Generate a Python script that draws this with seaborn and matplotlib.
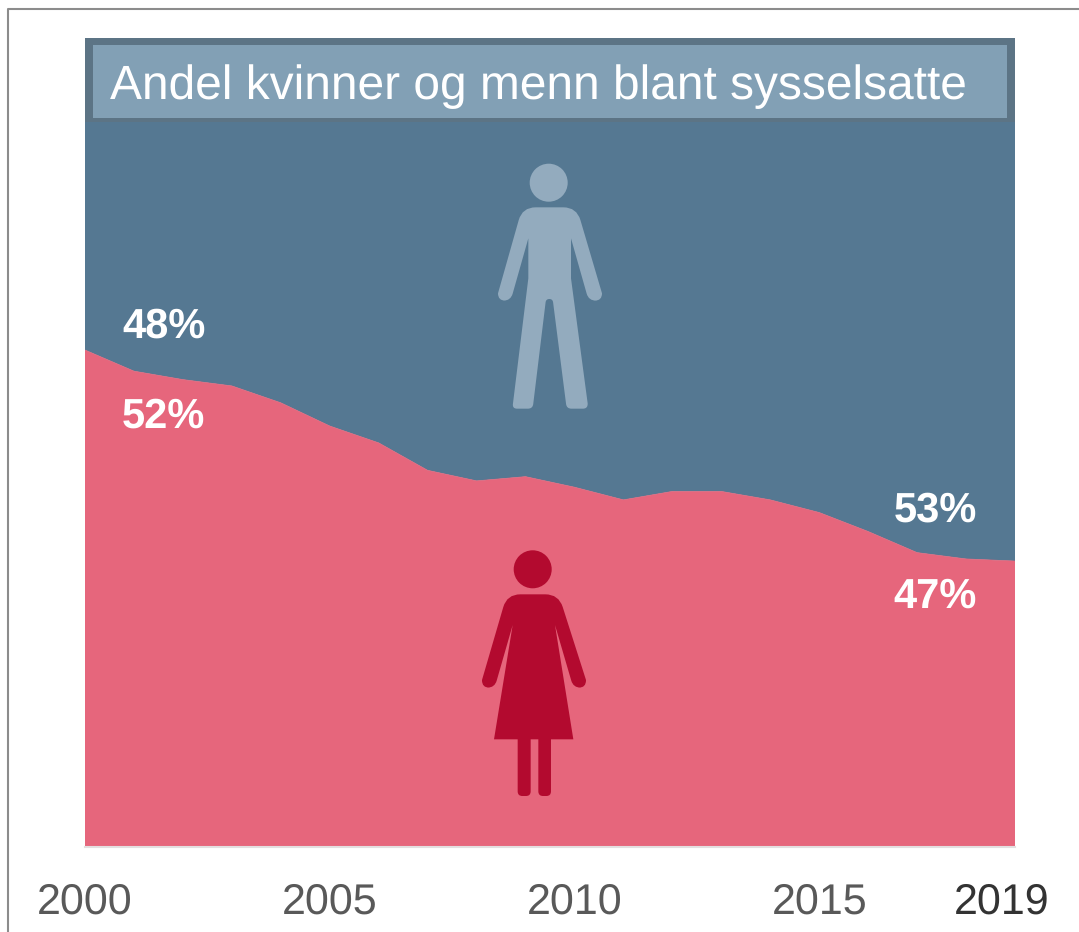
import numpy as np
import pandas as pd
import matplotlib
matplotlib.use("Agg")
import matplotlib.pyplot as plt
import seaborn as sns
from matplotlib.lines import Line2D
from matplotlib.patches import Circle, PathPatch, Rectangle
from matplotlib.path import Path
from matplotlib.transforms import Affine2D

years = list(range(2000, 2020))
women = [52.0, 51.5, 51.3, 51.15, 50.75, 50.2, 49.8, 49.15, 48.9, 49.0,
         48.75, 48.45, 48.65, 48.65, 48.45, 48.15, 47.7, 47.2, 47.05, 47.0]
men = [100 - w for w in women]
tick_years = [2000, 2005, 2010, 2015]

title = "Andel kvinner og menn blant sysselsatte"
BLUE, PINK = "#557892", "#E6667C"
W, H = 1079, 932

sns.set_theme(style="white")
plt.rcParams["font.family"] = ["Liberation Sans", "DejaVu Sans"]
plt.rcParams["text.kerning_factor"] = 6
plt.rcParams["text.hinting"] = "none"

fig = plt.figure(figsize=(W / 100, H / 100), dpi=100)
ax = fig.add_axes([85 / W, 1 - 847 / H, 930 / W, 809 / H])

df = pd.DataFrame({"year": years, "women": women, "men": men})
ax.fill_between(df["year"], 0, df["women"], color=PINK, lw=0)
ax.fill_between(df["year"], df["women"], df["women"] + df["men"], color=BLUE, lw=0)
sns.lineplot(data=df, x="year", y="women", color=PINK, lw=0.5, ax=ax)
ax.set_xlim(2000, 2019)
ax.set_ylim(40.224, 59.394)
ax.set(xlabel="", ylabel="", yticks=[])
ax.set_xticks(tick_years)
ax.tick_params(axis="x", length=0, pad=25.5, labelsize=31, labelcolor="#595959")
for s in ["top", "left", "right"]:
    ax.spines[s].set_visible(False)
ax.spines["bottom"].set_color("#E3DFE0")
ax.spines["bottom"].set_linewidth(1.5)
ax.annotate("2019", xy=(2019, 0), xycoords=("data", "axes fraction"),
            xytext=(-13 * 0.72, -25.5), textcoords="offset points", ha="center", va="top",
            fontsize=31, color="#333333")

# everything decorative below is placed in picture pixels, y going down
px = Affine2D().scale(1 / W, -1 / H).translate(0, 1) + fig.transFigure


def rounded(points, ox, oy):
    pts = [(ox + x / 3, oy + y / 3, r / 3) for x, y, r in points]
    verts, codes = [], []
    n = len(pts)
    for i in range(n):
        p = np.array(pts[i][:2])
        r = pts[i][2]
        a = np.array(pts[i - 1][:2])
        b = np.array(pts[(i + 1) % n][:2])
        if r == 0:
            verts.append(p)
            codes.append(Path.LINETO)
            continue
        s = p + (a - p) / np.linalg.norm(a - p) * r
        e = p + (b - p) / np.linalg.norm(b - p) * r
        verts += [s, p, e]
        codes += [Path.LINETO, Path.CURVE3, Path.CURVE3]
    codes[0] = Path.MOVETO
    verts.append(verts[0])
    codes.append(Path.CLOSEPOLY)
    return Path(np.array(verts), codes)


def add_shape(points, ox, oy, color):
    fig.add_artist(PathPatch(rounded(points, ox, oy), fc=color, ec="none", transform=px))


# frame, only top and left show
fig.add_artist(Line2D([1079, 8, 8], [9, 9, 932], color="#8C8C8C", lw=1.5, transform=px))

# title box
fig.add_artist(Rectangle((85, 38), 930, 84, fc="#5C7485", ec="none", transform=px))
fig.add_artist(Rectangle((93, 45), 914, 73, fc="#82A0B5", ec="none", transform=px))
fig.text(110 / W, 1 - 87 / H, title, color="white", fontsize=34.5, ha="left", va="center")

# man
MAN = "#93ABBE"
fig.add_artist(Circle((548.7, 182.7), 19, fc=MAN, ec="none", transform=px))
add_shape([(320, 172, 40), (396, 430, 0), (396, 452, 22), (356, 452, 22),
           (303, 265, 0), (303, 385, 0), (353, 760, 0), (353, 776, 14), (290, 776, 14), (248, 447, 10),
           (228, 447, 10), (188, 776, 14), (127, 776, 14), (175, 385, 0), (175, 265, 0),
           (122, 452, 22), (84, 452, 22), (84, 430, 0), (157, 172, 40)], 470, 150, MAN)

# woman
WOMAN = "#B30A2F"
fig.add_artist(Circle((532.7, 569.3), 19, fc=WOMAN, ec="none", transform=px))
add_shape([(266, 163, 40), (348, 420, 0), (348, 443, 22), (310, 443, 22), (255, 255, 0), (310, 598, 0),
           (72, 598, 0), (128, 255, 0), (74, 443, 22), (36, 443, 22), (36, 420, 0), (111, 163, 40)],
          470, 540, WOMAN)
add_shape([(143, 590, 0), (182, 590, 0), (182, 768, 14), (143, 768, 14)], 470, 540, WOMAN)
add_shape([(205, 590, 0), (243, 590, 0), (243, 768, 14), (205, 768, 14)], 470, 540, WOMAN)

# share labels
for txt, x, y in [("48%", 164, 327), ("52%", 163, 417), ("53%", 935, 511), ("47%", 935, 597)]:
    fig.text(x / W, 1 - y / H, txt, color="white", fontsize=30, fontweight="bold", ha="center", va="center")

fig.savefig("out.png", dpi=100)
